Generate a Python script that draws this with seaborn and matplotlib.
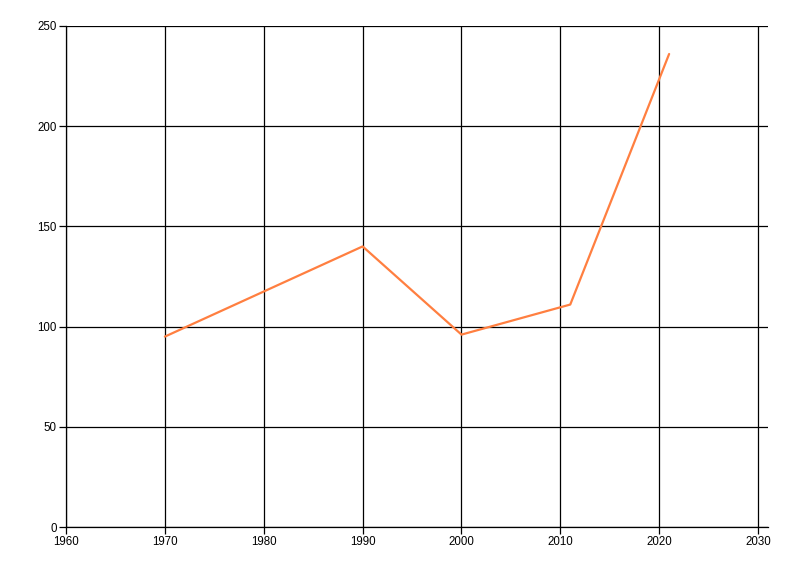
import numpy as np
import pandas as pd
import matplotlib
matplotlib.use("Agg")
import matplotlib.pyplot as plt
import seaborn as sns

years = [1970, 1990, 2000, 2011, 2021]
values = [95, 140, 96, 111, 236]
x_ticks = [1960, 1970, 1980, 1990, 2000, 2010, 2020, 2030]
y_ticks = [0, 50, 100, 150, 200, 250]

data = pd.DataFrame({"year": years, "value": values})

sns.set_style("white")
plt.rcParams["font.family"] = ["Liberation Sans", "DejaVu Sans"]

fig = plt.figure(figsize=(8, 5.76), dpi=100)
ax = fig.add_axes([0.0825, 0.085, 0.8775, 0.87])

sns.lineplot(data=data, x="year", y="value", ax=ax, color="#FF7F40", linewidth=1.6)

ax.set_xlim(1960, 2031)
ax.set_ylim(0, 250)
ax.set_xticks(x_ticks)
ax.set_yticks(y_ticks)
ax.grid(True, color="black", linewidth=0.9)
ax.set_axisbelow(True)
ax.set_xlabel("")
ax.set_ylabel("")
ax.tick_params(axis="both", labelsize=8.3, colors="black", length=5, width=0.9, pad=1.5, direction="out")
ax.tick_params(axis="x", bottom=True)
ax.tick_params(axis="y", left=True)
for s in ["top", "right"]:
    ax.spines[s].set_visible(False)
for s in ["left", "bottom"]:
    ax.spines[s].set_color("black")
    ax.spines[s].set_linewidth(0.9)

plt.savefig("out.png", dpi=100)
